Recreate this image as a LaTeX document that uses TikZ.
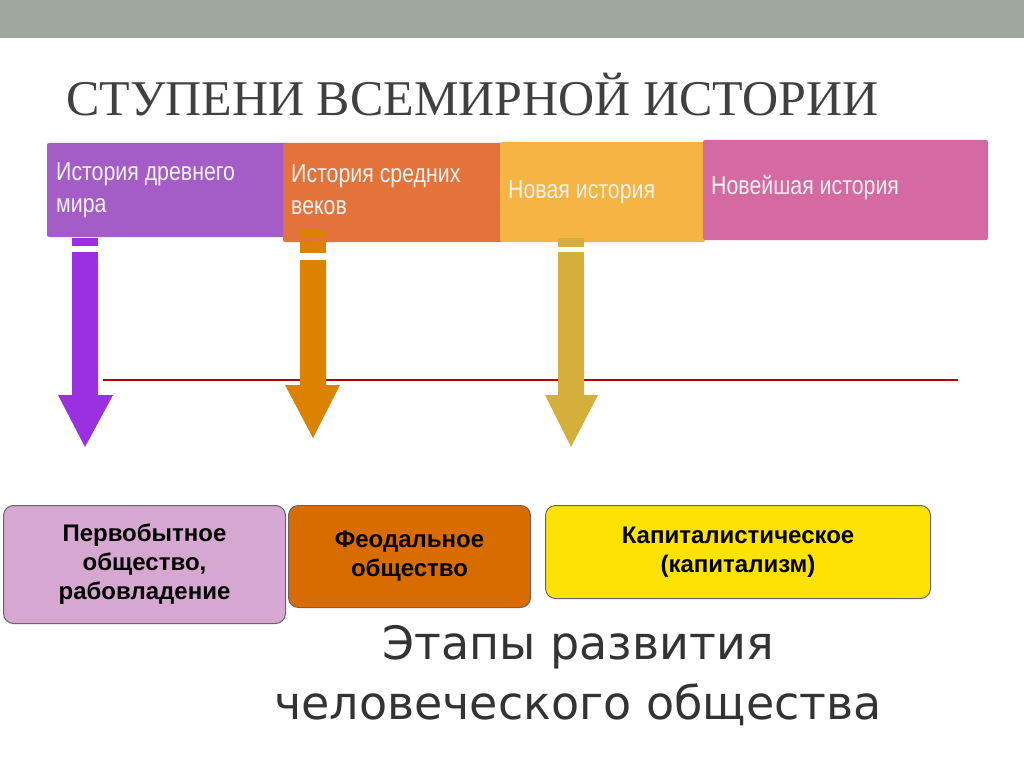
\documentclass[tikz,border=0pt]{standalone}
\usepackage{fontspec}
\setmainfont{Liberation Sans}
\newfontfamily\titlefont{Liberation Serif}
\newfontfamily\bigfont{DejaVu Sans}
\newcommand{\narrowtxt}[1]{\scalebox{0.82}[1]{\fontsize{26}{32}\selectfont\begin{tabular}{@{}l@{}}#1\end{tabular}}}
\begin{document}
\begin{tikzpicture}[x=1pt,y=-1pt,
  toptext/.style={anchor=west,text=white!95!black,inner sep=0pt},
  lowbox/.style={draw=black!60,line width=1pt,rounded corners=10pt,align=center,font=\bfseries\fontsize{24}{29}\selectfont}]
\useasboundingbox (0,0) rectangle (1024,767);
\fill[white] (0,0) rectangle (1024,767);
\fill[black!40!green!8!gray!70] (0,0) rectangle (1024,38);
\node[font=\titlefont\fontsize{50}{54}\selectfont,text=black!75,anchor=west,inner sep=0pt] (title) at (66,95) {СТУПЕНИ ВСЕМИРНОЙ ИСТОРИИ};
% top boxes
\definecolor{tp}{HTML}{A45CC6}\definecolor{to}{HTML}{E3733A}\definecolor{ty}{HTML}{F6B443}\definecolor{tk}{HTML}{D569A2}
\fill[rounded corners=2pt,fill=tp] (47,143) rectangle (290,237);
\node[toptext] (b1) at (56,190) {\narrowtxt{История древнего\\мира}};
\fill[rounded corners=2pt,fill=to] (283,143) rectangle (505,242);
\node[toptext] (b2) at (291,192) {\narrowtxt{История средних\\веков}};
\fill[rounded corners=2pt,fill=ty] (500,142) rectangle (705,242);
\node[toptext] (b3) at (508,192) {\narrowtxt{Новая история}};
\fill[rounded corners=2pt,fill=tk] (703,140) rectangle (988,240);
\node[toptext] (b4) at (711,188) {\narrowtxt{Новейшая история}};
% red line
\draw[red!70!black,line width=1.2pt] (103,380) -- (958,380);
% arrows
\definecolor{ap}{HTML}{9B30E0}\definecolor{ao}{HTML}{DB8300}\definecolor{ay}{HTML}{D4AF3C}
\fill[ap] (72,238) rectangle (98,246); \fill[ap] (72,252) rectangle (98,262);
\fill[ap] (72,262) -- (98,262) -- (98,395) -- (113,395) -- (85,447) -- (58,395) -- (72,395) -- cycle;
\fill[ao] (300,230) rectangle (326,238); \fill[ao] (300,242) rectangle (326,253);
\fill[ao] (300,260) -- (326,260) -- (326,385) -- (340,385) -- (313,438) -- (285,385) -- (300,385) -- cycle;
\fill[ay] (558,238) rectangle (584,247); \fill[ay] (558,252) rectangle (584,265);
\fill[ay] (558,265) -- (584,265) -- (584,395) -- (598,395) -- (571,447) -- (545,395) -- (558,395) -- cycle;
% bottom boxes
\node[lowbox,fill=violet!35!white!95!pink,minimum width=282pt,minimum height=118pt,anchor=north west] (c1) at (3,505) {Первобытное\\общество,\\рабовладение};
\node[lowbox,fill=orange!85!black,minimum width=242pt,minimum height=102pt,anchor=north west] (c2) at (288,505) {Феодальное\\общество};
\node[lowbox,fill=yellow!85!orange,minimum width=385pt,minimum height=93pt,anchor=north west] (c3) at (545,505) {Капиталистическое\\(капитализм)};
\node[font=\bigfont\fontsize{46}{60}\selectfont,text=black!80,align=center] (stage) at (578,676) {Этапы развития\\человеческого общества};
\end{tikzpicture}
\end{document}
